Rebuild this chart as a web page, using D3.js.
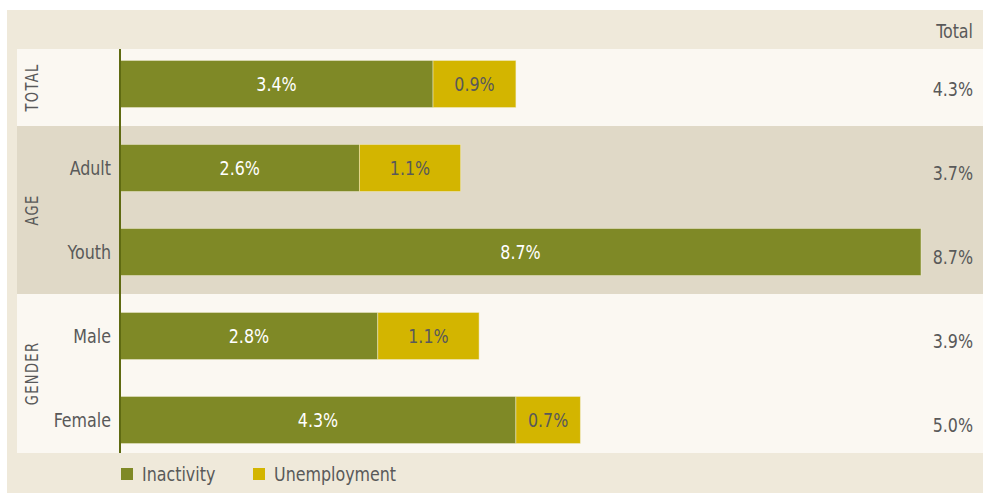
<!DOCTYPE html>
<html>
<head>
<meta charset="utf-8">
<script src="https://cdn.jsdelivr.net/npm/d3@7"></script>
<style>
  html, body { margin: 0; padding: 0; background: #ffffff; }
  svg { display: block; }
  text { font-family: "DejaVu Sans Condensed", "DejaVu Sans", sans-serif; font-stretch: condensed; }
</style>
</head>
<body>
<svg id="chart" width="983" height="493"></svg>
<script>
// Rows of the chart, top to bottom
const categories = ["Total", "Adult", "Youth", "Male", "Female"];
const categoryLabels = ["", "Adult", "Youth", "Male", "Female"];
const inactivity = [3.4, 2.6, 8.7, 2.8, 4.3];
const unemployment = [0.9, 1.1, 0.0, 1.1, 0.7];
const totals = ["4.3%", "3.7%", "8.7%", "3.9%", "5.0%"];
const groups = ["TOTAL", "AGE", "GENDER"];
const groupRows = [["Total"], ["Adult", "Youth"], ["Male", "Female"]];
const seriesNames = ["Inactivity", "Unemployment"];

const colors = { Inactivity: "#7f8926", Unemployment: "#d3b500" };
const textGray = "#595959";

const svg = d3.select("#chart");

const frame = { x0: 7, y0: 10, x1: 983, y1: 493 };
const panel = { x0: 17, y0: 49, x1: 983, y1: 453 };

const x = d3.scaleLinear().domain([0, 8.7]).range([120, 921]);
const y = d3.scaleBand().domain(categories).range([42, 462]).paddingInner(0.44).paddingOuter(0.22);

// squeeze glyphs horizontally a little for a narrow, condensed look
const SQUEEZE = 0.93;
function condensed(sel, cx, cy) {
  return sel.attr("transform", `translate(${cx},${cy}) scale(${SQUEEZE},1)`);
}

// outer frame and inner panel
svg.append("rect").attr("x", frame.x0).attr("y", frame.y0)
  .attr("width", frame.x1 - frame.x0).attr("height", frame.y1 - frame.y0)
  .attr("fill", "#efe9da");
svg.append("rect").attr("x", panel.x0).attr("y", panel.y0)
  .attr("width", panel.x1 - panel.x0).attr("height", panel.y1 - panel.y0)
  .attr("fill", "#fbf8f2");

// group bands: boundaries halfway between neighbouring rows
const step = y.step();
function bandTop(rows) {
  const c = y(rows[0]) + y.bandwidth() / 2 - step / 2;
  return Math.max(panel.y0, c);
}
function bandBottom(rows) {
  const c = y(rows[rows.length - 1]) + y.bandwidth() / 2 + step / 2;
  return Math.min(panel.y1, c);
}
groups.forEach((g, i) => {
  const t = Math.round(bandTop(groupRows[i]));
  const b = Math.round(bandBottom(groupRows[i]));
  if (i === 1) {
    svg.append("rect").attr("x", panel.x0).attr("y", t)
      .attr("width", panel.x1 - panel.x0).attr("height", b - t)
      .attr("fill", "#e0d9c7");
  }
  const cy = (t + b) / 2;
  svg.append("text")
    .attr("transform", `translate(38,${cy}) rotate(-90) scale(0.86,1)`)
    .attr("text-anchor", "middle")
    .attr("font-size", 17)
    .attr("letter-spacing", 1.5)
    .attr("fill", textGray)
    .text(g);
});

// stacked bars
const stackData = categories.map((c, i) => ({ cat: c, Inactivity: inactivity[i], Unemployment: unemployment[i] }));
const stacked = d3.stack().keys(seriesNames)(stackData);

stacked.forEach(layer => {
  const gL = svg.append("g");
  layer.forEach((d, i) => {
    const v = d[1] - d[0];
    if (v <= 0) return;
    const x0 = x(d[0]), x1 = x(d[1]);
    const yy = y(categories[i]);
    gL.append("rect")
      .attr("x", x0).attr("y", yy)
      .attr("width", x1 - x0).attr("height", y.bandwidth())
      .attr("fill", colors[layer.key])
      .attr("stroke", "#f3efd6").attr("stroke-opacity", 0.6).attr("stroke-width", 0.8);
    condensed(gL.append("text"), (x0 + x1) / 2, yy + y.bandwidth() / 2)
      .attr("dy", "0.35em")
      .attr("text-anchor", "middle")
      .attr("font-size", 19)
      .attr("fill", layer.key === "Inactivity" ? "#ffffff" : textGray)
      .text(d3.format(".1f")(v) + "%");
  });
});

// vertical baseline axis
svg.append("line")
  .attr("x1", x(0)).attr("x2", x(0))
  .attr("y1", panel.y0).attr("y2", panel.y1)
  .attr("stroke", "#5f6a12").attr("stroke-width", 2);

// row labels
categories.forEach((c, i) => {
  condensed(svg.append("text"), 111, y(c) + y.bandwidth() / 2)
    .attr("dy", "0.35em")
    .attr("text-anchor", "end")
    .attr("font-size", 19)
    .attr("fill", textGray)
    .text(categoryLabels[i]);
});

// totals column
condensed(svg.append("text"), 973, 31)
  .attr("dy", "0.35em")
  .attr("text-anchor", "end").attr("font-size", 19).attr("fill", textGray)
  .text("Total");
categories.forEach((c, i) => {
  condensed(svg.append("text"), 973, y(c) + y.bandwidth() / 2 + 5)
    .attr("dy", "0.35em")
    .attr("text-anchor", "end")
    .attr("font-size", 19)
    .attr("fill", textGray)
    .text(totals[i]);
});

// legend
const legendX = [121, 253];
seriesNames.forEach((s, i) => {
  const g = svg.append("g").attr("transform", `translate(${legendX[i]},468)`);
  g.append("rect").attr("width", 12).attr("height", 12).attr("fill", colors[s]);
  condensed(g.append("text"), 21, 6)
    .attr("dy", "0.35em")
    .attr("font-size", 19).attr("fill", textGray).text(s);
});
</script>
</body>
</html>
